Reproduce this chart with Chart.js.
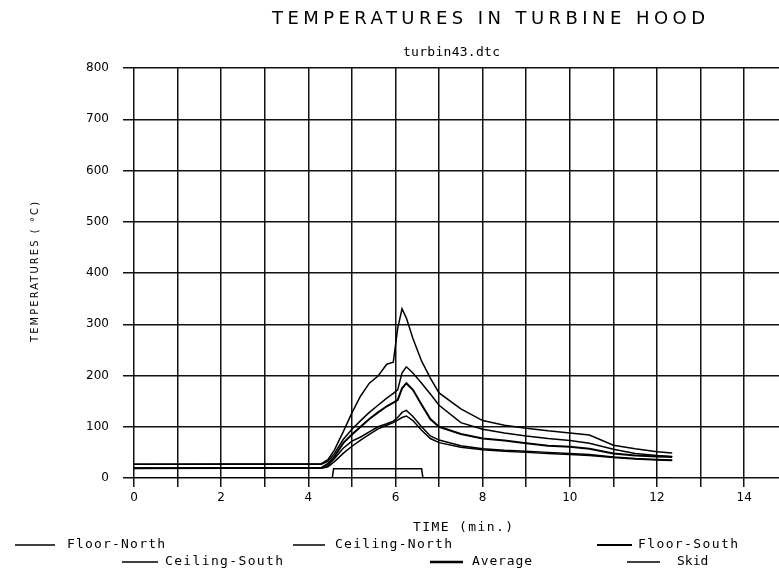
<!DOCTYPE html>
<html lang="en">
<head>
  <meta charset="UTF-8" />
  <title>Temperatures in Turbine Hood</title>
  <script src="https://cdn.jsdelivr.net/npm/chart.js"></script>
  <style>
    body { margin: 0; background: #fff; }
    #wrap { width: 779px; height: 568px; }
  </style>
</head>
<body>
  <div id="wrap"><canvas id="turbineChart" width="779" height="568"></canvas></div>

  <script>
    const chartTitle = 'TEMPERATURES IN TURBINE HOOD';
    const chartSubtitle = 'turbin43.dtc';
    const xTitle = 'TIME (min.)';
    const yTitle = 'TEMPERATURES ( °C)';

    const xTickValues = [0, 1, 2, 3, 4, 5, 6, 7, 8, 9, 10, 11, 12, 13, 14];
    const yTickValues = [0, 100, 200, 300, 400, 500, 600, 700, 800];

    // time (min.) shared by the five probes
    const time = [0, 4.3, 4.45, 4.6, 4.8, 5.0, 5.2, 5.4, 5.6, 5.8, 5.95, 6.05, 6.15, 6.25, 6.4, 6.6, 6.8, 7.0, 7.5, 8.0, 8.5, 9.0, 9.5, 10.0, 10.45, 11.0, 11.5, 12.0, 12.35];

    const floorNorth   = [19, 19, 24, 38, 58, 72, 80, 90, 100, 106, 111, 118, 128, 132, 120, 100, 82, 74, 63, 57, 54, 52, 50, 48, 46, 41, 38, 36, 35];
    const ceilingNorth = [27, 28, 36, 55, 90, 127, 160, 185, 199, 222, 226, 292, 330, 312, 272, 228, 195, 166, 135, 112, 103, 97, 92, 88, 84, 64, 57, 51, 49];
    const floorSouth   = [19, 19, 22, 32, 48, 62, 74, 85, 96, 103, 108, 113, 118, 121, 112, 93, 77, 69, 60, 55, 52, 50, 48, 46, 44, 40, 37, 35, 34];
    const ceilingSouth = [27, 27, 33, 48, 75, 95, 112, 128, 142, 156, 165, 172, 205, 217, 205, 185, 164, 142, 108, 95, 88, 82, 77, 73, 68, 56, 48, 44, 42];
    const average      = [19, 20, 28, 42, 68, 85, 100, 115, 128, 140, 147, 152, 175, 185, 172, 143, 115, 100, 86, 77, 73, 68, 63, 61, 57, 48, 44, 42, 41];

    const skidTime = [0, 4.55, 4.58, 6.6, 6.63, 12.35];
    const skid     = [0, 0, 18, 18, 0, 0];

    const legendNames = ['Floor-North', 'Ceiling-North', 'Floor-South', 'Ceiling-South', 'Average', 'Skid'];

    function pts(xs, ys) {
      return xs.map((x, i) => ({ x: x, y: ys[i] }));
    }

    function series(label, xs, ys, width) {
      return {
        label: label,
        data: pts(xs, ys),
        borderColor: '#000',
        borderWidth: width,
        pointRadius: 0,
        showLine: true,
        fill: false,
        tension: 0
      };
    }

    // draws text stretched over a given width, like the plotter lettering
    function spaced(ctx, text, left, y, width) {
      ctx.letterSpacing = '0px';
      const w = ctx.measureText(text).width;
      const gap = Math.max(0, (width - w) / (text.length - 1));
      ctx.letterSpacing = gap + 'px';
      ctx.textAlign = 'left';
      ctx.fillText(text, left, y);
      ctx.letterSpacing = '0px';
    }

    const textPlugin = {
      id: 'plotterText',
      afterDraw(chart) {
        const ctx = chart.ctx;
        ctx.save();
        ctx.fillStyle = '#000';
        ctx.strokeStyle = '#000';
        ctx.textBaseline = 'middle';

        ctx.font = '18px "DejaVu Sans"';
        spaced(ctx, chartTitle, 272, 19, 433);

        ctx.font = '13px "DejaVu Sans Mono"';
        spaced(ctx, chartSubtitle, 403, 53, 97);

        ctx.font = '13px "DejaVu Sans Mono"';
        spaced(ctx, xTitle, 413, 528, 100);

        ctx.save();
        ctx.translate(35, 272);
        ctx.rotate(-Math.PI / 2);
        ctx.font = '11px "DejaVu Sans Condensed", "DejaVu Sans"';
        spaced(ctx, yTitle, -70, 0, 140);
        ctx.restore();

        // legend, two staggered rows
        const items = [
          { line: [15, 55], text: 67, w: 98, y: 545, lw: 1.5 },
          { line: [293, 325], text: 335, w: 117, y: 545, lw: 1.5 },
          { line: [597, 632], text: 638, w: 100, y: 545, lw: 2 },
          { line: [122, 158], text: 165, w: 118, y: 562, lw: 1.5 },
          { line: [430, 463], text: 472, w: 60, y: 562, lw: 2.5 },
          { line: [627, 660], text: 677, w: 31, y: 562, lw: 1.5 }
        ];
        ctx.font = '13px "DejaVu Sans Mono"';
        items.forEach((it, i) => {
          ctx.lineWidth = it.lw;
          ctx.beginPath();
          ctx.moveTo(it.line[0], it.y);
          ctx.lineTo(it.line[1], it.y);
          ctx.stroke();
          spaced(ctx, legendNames[i], it.text, it.y, it.w);
        });
        ctx.restore();
      }
    };

    const ctx = document.getElementById('turbineChart').getContext('2d');
    new Chart(ctx, {
      type: 'scatter',
      data: {
        datasets: [
          series(legendNames[0], time, floorNorth, 1.5),
          series(legendNames[1], time, ceilingNorth, 1.5),
          series(legendNames[2], time, floorSouth, 1.5),
          series(legendNames[3], time, ceilingSouth, 1.5),
          series(legendNames[4], time, average, 2),
          series(legendNames[5], skidTime, skid, 1.5)
        ]
      },
      options: {
        responsive: false,
        animation: false,
        layout: { padding: { top: 68, left: 0, right: 0, bottom: 0 } },
        plugins: {
          legend: { display: false },
          title: { display: false },
          tooltip: { enabled: false }
        },
        scales: {
          x: {
            type: 'linear',
            min: 0,
            max: 14.8,
            afterBuildTicks: scale => { scale.ticks = xTickValues.map(v => ({ value: v })); },
            afterFit: scale => { scale.height = 90; },
            ticks: {
              color: '#000',
              font: { family: 'DejaVu Sans', size: 12 },
              padding: 4,
              maxRotation: 0,
              autoSkip: false,
              callback: v => (v % 2 === 0 ? v : '')
            },
            grid: { color: '#111', lineWidth: 1.5, tickLength: 9 },
            border: { display: false }
          },
          y: {
            min: 0,
            max: 800,
            afterBuildTicks: scale => { scale.ticks = yTickValues.map(v => ({ value: v })); },
            afterFit: scale => { scale.width = 134; },
            ticks: {
              color: '#000',
              font: { family: 'DejaVu Sans', size: 12 },
              padding: 14
            },
            grid: { color: '#111', lineWidth: 1.5, tickLength: 11 },
            border: { display: false }
          }
        }
      },
      plugins: [textPlugin]
    });
  </script>
</body>
</html>
